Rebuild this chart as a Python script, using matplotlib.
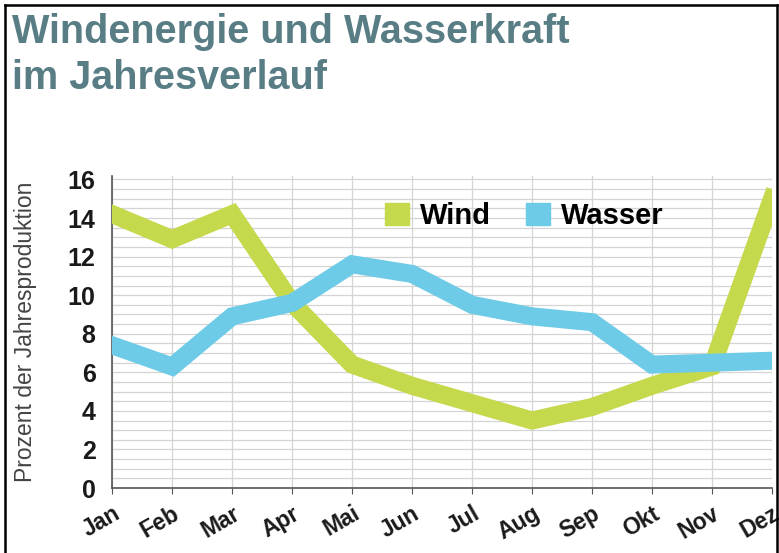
import matplotlib.pyplot as plt
from matplotlib.lines import Line2D
from matplotlib.patches import Rectangle

plt.rcParams['font.family'] = ['Liberation Sans', 'DejaVu Sans']

months = ['Jan', 'Feb', 'Mar', 'Apr', 'Mai', 'Jun', 'Jul', 'Aug', 'Sep', 'Okt', 'Nov', 'Dez']
wind = [14.2, 12.9, 14.2, 9.6, 6.4, 5.3, 4.4, 3.5, 4.2, 5.3, 6.3, 15.0]
wasser = [7.4, 6.3, 8.9, 9.6, 11.6, 11.1, 9.5, 8.9, 8.6, 6.4, 6.5, 6.6]
y_ticks = [0, 2, 4, 6, 8, 10, 12, 14, 16]

wind_color = '#c6d84b'
wasser_color = '#6dcbe7'
title_color = '#587d84'

fig = plt.figure(figsize=(7.79, 5.53), dpi=100)
ax = fig.add_axes([0.144, 0.1175, 0.847, 0.565])

x = list(range(len(months)))
ax.plot(x, wind, color=wind_color, lw=13, solid_joinstyle='miter', zorder=3)
ax.plot(x, wasser, color=wasser_color, lw=13, solid_joinstyle='miter', zorder=3)

ax.set_xlim(0, 11)
ax.set_ylim(0, 16.2)
ax.set_yticks(y_ticks)
ax.set_yticks([i * 0.5 for i in range(33)], minor=True)
ax.set_xticks(x)
ax.set_xticklabels(months, rotation=30, ha='right', rotation_mode='anchor',
                   fontsize=16.5, fontweight='bold', color='#1a1a1a')
ax.set_yticklabels([str(v) for v in y_ticks], fontsize=18, fontweight='bold', color='#1a1a1a')
ax.tick_params(axis='y', length=0, pad=12, which='both')
ax.tick_params(axis='x', length=4, color='#555555', pad=6)

ax.grid(True, which='both', axis='y', color='#d4d4d4', lw=0.9, zorder=0)
ax.grid(True, which='major', axis='x', color='#d4d4d4', lw=0.9, zorder=0)
for s in ['top', 'right']:
    ax.spines[s].set_visible(False)
for s in ['left', 'bottom']:
    ax.spines[s].set_color('#555555')
    ax.spines[s].set_linewidth(1.2)

ax.set_ylabel('Prozent der Jahresproduktion', fontsize=16.5, color='#444444', labelpad=22)

handles = [Rectangle((0, 0), 1, 1, color=wind_color), Rectangle((0, 0), 1, 1, color=wasser_color)]
ax.legend(handles, ['Wind', 'Wasser'], loc='upper center', bbox_to_anchor=(0.625, 1.0),
          ncol=2, frameon=False, prop={'size': 21, 'weight': 'bold'},
          handlelength=0.8, handleheight=0.8, handletextpad=0.4, columnspacing=1.2)

fig.text(0.016, 0.942, 'Windenergie und Wasserkraft', fontsize=28.5, fontweight='bold',
         color=title_color, va='center')
fig.text(0.016, 0.859, 'im Jahresverlauf', fontsize=28.5, fontweight='bold',
         color=title_color, va='center')

# frame around the figure
for xs, ys in [([0.007, 0.007], [0.0, 0.991]), ([0.007, 0.997], [0.991, 0.991]),
               ([0.997, 0.997], [0.0, 0.991])]:
    fig.add_artist(Line2D(xs, ys, color='black', lw=1.8, transform=fig.transFigure))

fig.savefig('out.png', dpi=100)
